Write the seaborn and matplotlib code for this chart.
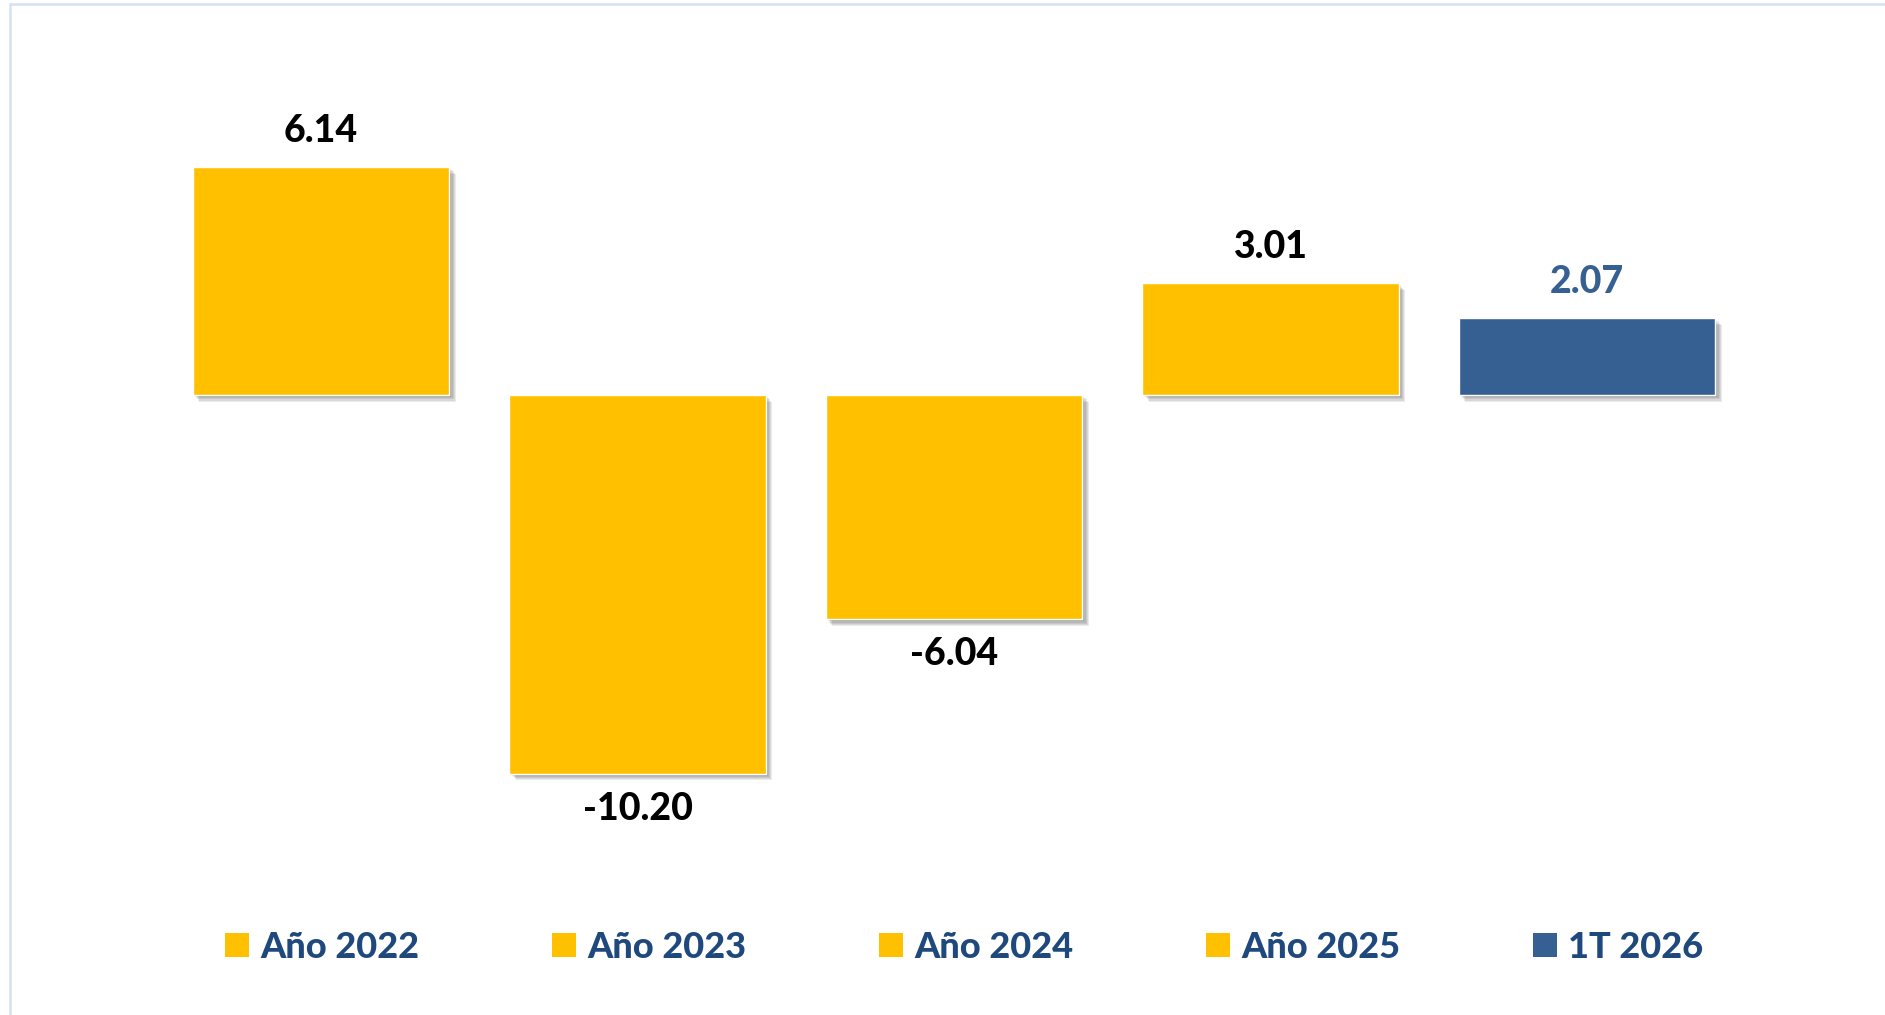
import matplotlib
matplotlib.use("Agg")
import matplotlib.pyplot as plt
import matplotlib.patheffects as pe
from matplotlib.lines import Line2D
from matplotlib.patches import Patch
import seaborn as sns

# Data
periods = ["Año 2022", "Año 2023", "Año 2024", "Año 2025", "1T 2026"]
values = [6.14, -10.20, -6.04, 3.01, 2.07]
bar_colors = ["#FFC000", "#FFC000", "#FFC000", "#FFC000", "#376092"]
label_colors = ["#000000", "#000000", "#000000", "#000000", "#376092"]
legend_text_color = "#1F497D"

sns.set_theme(style="white")
plt.rcParams["font.family"] = ["Lato", "DejaVu Sans"]

W, H = 1885, 1015
fig = plt.figure(figsize=(W / 100, H / 100), dpi=100)
fig.patch.set_facecolor("white")

# axes placed so that bar centres / zero line match the reference
ax = fig.add_axes([162.75 / W, 137.3 / H, 1582.5 / W, 816.9 / H])

sns.barplot(
    x=periods, y=values, hue=periods, palette=bar_colors,
    width=0.81, saturation=1, legend=False, ax=ax,
)

# soft drop shadow under every bar
shadow = [
    pe.SimplePatchShadow(offset=(o, -o), shadow_rgbFace="black", alpha=0.08)
    for o in (0.8, 1.6, 2.4, 3.2, 4.0, 4.8)
]
for bar in ax.patches:
    bar.set_path_effects(shadow + [pe.Normal()])

# value labels
for bar, val, col in zip(ax.patches, values, label_colors):
    x = bar.get_x() + bar.get_width() / 2
    if val >= 0:
        ax.annotate(f"{val:.2f}", (x, val), xytext=(0, 14), textcoords="offset points",
                    ha="center", va="bottom", fontsize=27, fontweight="black", color=col)
    else:
        ax.annotate(f"{val:.2f}", (x, val), xytext=(0, -13), textcoords="offset points",
                    ha="center", va="top", fontsize=27, fontweight="black", color=col)

ax.set_xlim(-0.5, 4.5)
ax.set_ylim(-13, 9)
ax.set_xticks([])
ax.set_yticks([])
ax.set_xlabel("")
ax.set_ylabel("")
sns.despine(ax=ax, left=True, bottom=True)
ax.set_facecolor("none")

# legend along the bottom
handles = [Patch(facecolor=c, edgecolor="none") for c in bar_colors]
leg = fig.legend(
    handles, periods, loc="center left", bbox_to_anchor=(225 / W, 1 - 947 / H),
    ncol=5, frameon=False, borderpad=0, borderaxespad=0,
    handlelength=0.67, handleheight=0.64, handletextpad=0.3, columnspacing=3.68,
    prop={"size": 26, "weight": "black"},
)
for t in leg.get_texts():
    t.set_color(legend_text_color)

# thin light-blue frame (left and top edges)
frame_color = "#D5E2F3"
fig.add_artist(Line2D([10 / W, 10 / W], [0, 1 - 4 / H], color=frame_color, lw=1.8,
                      transform=fig.transFigure))
fig.add_artist(Line2D([10 / W, 1], [1 - 4 / H, 1 - 4 / H], color=frame_color, lw=1.8,
                      transform=fig.transFigure))

fig.savefig("out.png", dpi=100, facecolor="white")
